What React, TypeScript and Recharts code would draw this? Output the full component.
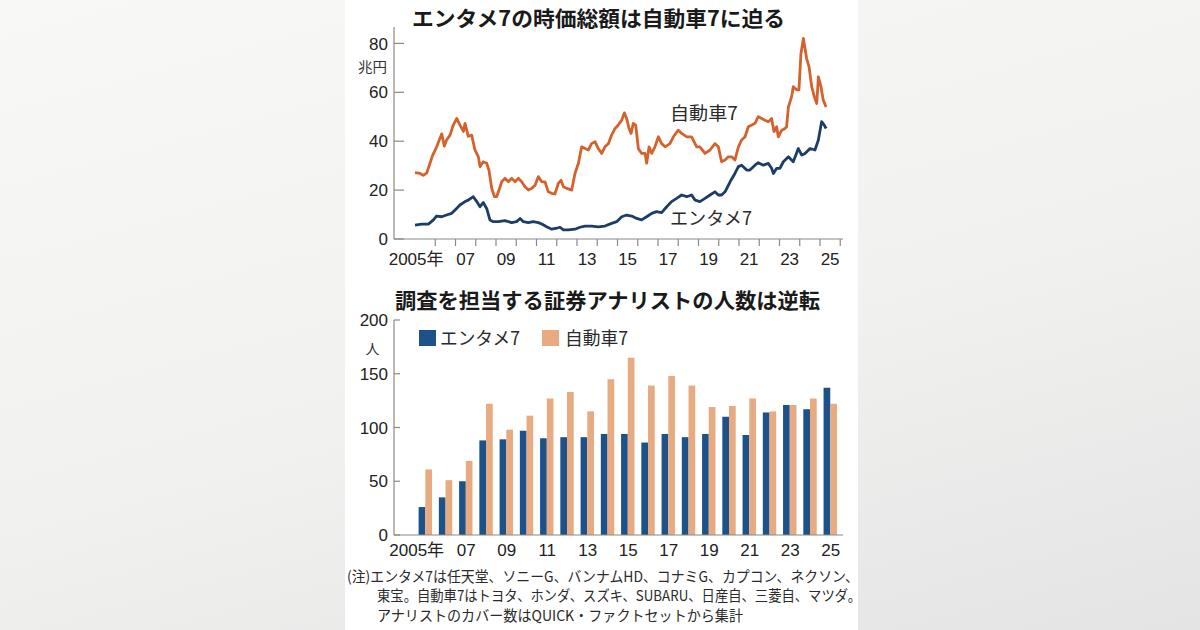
import React from 'react';
import { LineChart, Line, BarChart, Bar, XAxis, YAxis } from 'recharts';

// 時価総額（兆円）: 自動車7
const autoYears = [
  2005.0, 2005.25, 2005.41, 2005.58, 2005.74, 2005.86, 2006.07, 2006.32, 2006.45, 2006.56,
  2006.73, 2006.89, 2007.06, 2007.22, 2007.39, 2007.47, 2007.63, 2007.8, 2007.96, 2008.13,
  2008.21, 2008.37, 2008.54, 2008.65, 2008.79, 2008.92, 2009.03, 2009.15, 2009.28, 2009.44,
  2009.61, 2009.77, 2009.94, 2010.1, 2010.27, 2010.43, 2010.6, 2010.76, 2010.93, 2011.09,
  2011.26, 2011.42, 2011.58, 2011.75, 2011.91, 2012.08, 2012.21, 2012.33, 2012.49, 2012.74,
  2012.9, 2013.07, 2013.23, 2013.4, 2013.56, 2013.72, 2013.89, 2014.05, 2014.22, 2014.38,
  2014.55, 2014.71, 2014.88, 2015.04, 2015.21, 2015.34, 2015.45, 2015.57, 2015.67, 2015.78,
  2015.9, 2016.03, 2016.19, 2016.36, 2016.44, 2016.56, 2016.69, 2016.85, 2017.02, 2017.18,
  2017.35, 2017.59, 2017.76, 2018.0, 2018.17, 2018.42, 2018.66, 2018.91, 2019.07, 2019.32,
  2019.57, 2019.81, 2019.98, 2020.14, 2020.31, 2020.47, 2020.64, 2020.8, 2020.97, 2021.13,
  2021.3, 2021.46, 2021.63, 2021.79, 2021.95, 2022.12, 2022.28, 2022.45, 2022.61, 2022.73,
  2022.86, 2022.94, 2023.11, 2023.27, 2023.35, 2023.44, 2023.6, 2023.68, 2023.85, 2023.96,
  2024.06, 2024.18, 2024.34, 2024.46, 2024.59, 2024.72, 2024.84, 2024.92, 2025.05, 2025.16,
  2025.3,
];
const autoCap = [
  27.1, 26.8, 26, 27, 31, 34, 37.7, 43, 38, 40.5,
  42.5, 46.6, 49.3, 46.6, 44, 47.3, 42, 42.5, 36.4, 33.6,
  29.6, 31.6, 31, 28.2, 20.7, 17.3, 17.3, 20, 23.4, 24.8,
  23.4, 24.8, 23.4, 24.8, 23.4, 21.4, 20, 20.7, 22, 25.5,
  23.4, 23.4, 19.3, 18.7, 18.4, 22.8, 24, 21.4, 20.7, 20,
  26.8, 31, 37.7, 37, 36.4, 39, 39.8, 37, 35, 37.7,
  39, 42.5, 45.2, 46.6, 48.6, 51.6, 49.3, 45.2, 43.2, 47.3,
  46.6, 37, 35, 35, 31, 37.7, 35, 37.7, 41.8, 39,
  37.7, 39, 41.8, 44.5, 43.2, 41.8, 41.8, 37.7, 37.7, 35,
  36.4, 39, 37.7, 31.6, 32.3, 33.6, 33.6, 32.3, 37.7, 40.5,
  41.8, 45.9, 46.6, 47.3, 50, 49.3, 48.6, 48, 49.3, 43.9,
  45.9, 41.8, 44.5, 45.2, 45.9, 54, 58.2, 62.3, 61, 61,
  75.9, 82, 73.8, 70.4, 62.3, 58.2, 55.4, 66.3, 62.3, 56.8,
  54,
];

// 時価総額（兆円）: エンタメ7
const entYears = [
  2005.0, 2005.33, 2005.66, 2005.91, 2006.07, 2006.32, 2006.56, 2006.81, 2006.98, 2007.22,
  2007.47, 2007.63, 2007.88, 2008.05, 2008.21, 2008.37, 2008.54, 2008.7, 2008.87, 2009.12,
  2009.44, 2009.77, 2010.02, 2010.19, 2010.35, 2010.6, 2010.84, 2011.09, 2011.26, 2011.5,
  2011.75, 2012.0, 2012.16, 2012.33, 2012.57, 2012.9, 2013.15, 2013.4, 2013.72, 2014.05,
  2014.38, 2014.71, 2014.96, 2015.21, 2015.45, 2015.7, 2015.95, 2016.19, 2016.44, 2016.69,
  2016.93, 2017.18, 2017.43, 2017.67, 2017.92, 2018.17, 2018.42, 2018.66, 2018.83, 2019.07,
  2019.32, 2019.57, 2019.81, 2019.98, 2020.14, 2020.31, 2020.56, 2020.8, 2020.97, 2021.13,
  2021.38, 2021.54, 2021.79, 2021.95, 2022.2, 2022.45, 2022.61, 2022.7, 2022.86, 2023.02,
  2023.19, 2023.44, 2023.68, 2023.93, 2024.1, 2024.26, 2024.51, 2024.75, 2024.92, 2025.08,
  2025.21, 2025.3,
];
const entCap = [
  5.7, 6.1, 6.1, 7.8, 9.4, 9.1, 9.8, 10.5, 11.9, 13.9,
  15.3, 15.9, 17.3, 15.3, 13.2, 14.9, 12.5, 7.8, 7.1, 7.1,
  7.5, 6.7, 7.1, 8.4, 7.1, 6.7, 7.1, 6.7, 6.1, 5,
  4, 4.4, 4.8, 3.7, 3.7, 4, 4.8, 5.3, 5.3, 5,
  5.3, 6.4, 7.1, 9.1, 9.8, 9.4, 8.4, 7.8, 9.1, 10.5,
  11.2, 10.8, 13.2, 15.3, 16.6, 18, 17.3, 18, 15.9, 15.3,
  16.6, 18, 19.3, 18, 18, 19.3, 23.4, 26.8, 29.6, 30.2,
  28.2, 28.2, 30.2, 31.2, 30.2, 30.9, 28.9, 26.8, 28.9, 28.9,
  31.6, 33.6, 31.6, 37, 34.3, 35, 37, 36.4, 40.5, 48,
  46.6, 45.2,
];

// アナリスト数（人）
const years = [
  2005, 2006, 2007, 2008, 2009, 2010, 2011, 2012, 2013, 2014,
  2015, 2016, 2017, 2018, 2019, 2020, 2021, 2022, 2023, 2024, 2025,
];
const entAnalysts = [26, 35, 50, 88, 89, 97, 90, 91, 91, 94, 94, 86, 94, 91, 94, 110, 93, 114, 121, 117, 137];
const autoAnalysts = [61, 51, 69, 122, 98, 111, 127, 133, 115, 145, 165, 139, 148, 139, 119, 120, 127, 115, 121, 127, 122];

const capYTicks = [0, 20, 40, 60, 80];
const capXTicks = [2006, 2007, 2008, 2009, 2010, 2011, 2012, 2013, 2014, 2015, 2016, 2017, 2018, 2019, 2020, 2021, 2022, 2023, 2024, 2025, 2026];
const countYTicks = [0, 50, 100, 150, 200];

const ORANGE_LINE = '#d4622c';
const BLUE_LINE = '#1b3d68';
const BLUE_BAR = '#1d5288';
const ORANGE_BAR = '#e8aa80';
const AXIS = '#8a8a8a';
const NUM_FONT = "'Liberation Sans', Arial, 'Noto Sans CJK JP', sans-serif";
const JP_FONT = "'Noto Sans CJK JP', 'Noto Sans', sans-serif";

const X_MIN = 2003.963;
const X_MAX = 2026.136;
const PLOT_W = 449;
const PX_PER_YEAR = PLOT_W / (X_MAX - X_MIN);

const autoData = autoYears.map((t, i) => ({ t, v: autoCap[i] }));
const entData = entYears.map((t, i) => ({ t, v: entCap[i] }));
const barData = years.map((year, i) => ({ year, ent: entAnalysts[i], auto: autoAnalysts[i] }));

function yearLabel(year: number) {
  return year === 2005 ? '2005年' : String(year).slice(2);
}

function CapXTick(props: any) {
  const { x, y, payload } = props;
  const labelYear = payload.value - 1;
  const showLabel = labelYear % 2 === 1;
  const lx = x - PX_PER_YEAR / 2 + (labelYear === 2005 ? -9 : 0);
  return (
    <g>
      <line x1={x} y1={y} x2={x} y2={y + 7} stroke={AXIS} strokeWidth={1.2} />
      {showLabel && (
        <text x={lx} y={y + 26} textAnchor="middle" fontSize={17} fill="#222" fontFamily={NUM_FONT}>
          {yearLabel(labelYear)}
        </text>
      )}
    </g>
  );
}

function CountXTick(props: any) {
  const { x, y, payload } = props;
  const lx = x + (payload.value === 2005 ? -9 : 0);
  return (
    <text x={lx} y={y + 21} textAnchor="middle" fontSize={17} fill="#222" fontFamily={NUM_FONT}>
      {yearLabel(payload.value)}
    </text>
  );
}

function makeYTick(len: number) {
  return function YTick(props: any) {
    const { x, y, payload } = props;
    return (
      <g>
        <line x1={x} y1={y} x2={x + len} y2={y} stroke={AXIS} strokeWidth={1.2} />
        <text x={x - 6} y={y} dy="0.36em" textAnchor="end" fontSize={17} fill="#222" fontFamily={NUM_FONT}>
          {payload.value}
        </text>
      </g>
    );
  };
}

const CapYTick = makeYTick(10);
const CountYTick = makeYTick(6);

function Overlay() {
  return (
    <svg width={1200} height={630} style={{ position: 'absolute', left: 0, top: 0, pointerEvents: 'none' }}>
      <g fontFamily={JP_FONT} fill="#1a1a1a">
        <text x={412} y={26} fontSize={21} fontWeight={700} textLength={373} lengthAdjust="spacingAndGlyphs">
          エンタメ7の時価総額は自動車7に迫る
        </text>
        <text x={395} y={308} fontSize={21} fontWeight={700} textLength={425} lengthAdjust="spacingAndGlyphs">
          調査を担当する証券アナリストの人数は逆転
        </text>
        <text x={358} y={72} fontSize={14} fill="#333" textLength={29} lengthAdjust="spacingAndGlyphs">兆円</text>
        <text x={372.5} y={354} fontSize={14} fill="#333" textAnchor="middle">人</text>
        <text x={670} y={120} fontSize={18} fill="#2a2a2a" textLength={68} lengthAdjust="spacingAndGlyphs">自動車7</text>
        <text x={670} y={225} fontSize={18} fill="#2a2a2a" textLength={82} lengthAdjust="spacingAndGlyphs">エンタメ7</text>

        <rect x={419} y={330} width={17} height={16} fill={BLUE_BAR} />
        <text x={440} y={345} fontSize={18} fill="#2a2a2a" textLength={80} lengthAdjust="spacingAndGlyphs">エンタメ7</text>
        <rect x={542} y={330} width={17} height={16} fill={ORANGE_BAR} />
        <text x={565} y={345} fontSize={18} fill="#2a2a2a" textLength={63} lengthAdjust="spacingAndGlyphs">自動車7</text>

        <g fontSize={14.5} fill="#2a2a2a">
          <text x={347} y={582} textLength={512} lengthAdjust="spacingAndGlyphs">
            (注)エンタメ7は任天堂、ソニーG、バンナムHD、コナミG、カプコン、ネクソン、
          </text>
          <text x={377} y={601} textLength={484} lengthAdjust="spacingAndGlyphs">
            東宝。自動車7はトヨタ、ホンダ、スズキ、SUBARU、日産自、三菱自、マツダ。
          </text>
          <text x={377} y={621} textLength={366} lengthAdjust="spacingAndGlyphs">
            アナリストのカバー数はQUICK・ファクトセットから集計
          </text>
        </g>
      </g>
    </svg>
  );
}

export default function App() {
  return (
    <div
      style={{
        position: 'fixed',
        left: 0,
        top: 0,
        width: 1200,
        height: 630,
        overflow: 'hidden',
        background: 'linear-gradient(165deg, #f8f8f7 0%, #f1f1f0 55%, #e4e4e4 100%)',
      }}
    >
      <div style={{ position: 'absolute', left: 345, top: 0, width: 513, height: 630, background: '#fff' }} />

      <div style={{ position: 'absolute', left: 345, top: 0 }}>
        <LineChart width={513} height={280} margin={{ top: 27, right: 15, bottom: 11, left: 0 }}>
          <XAxis
            type="number"
            dataKey="t"
            domain={[X_MIN, X_MAX]}
            ticks={capXTicks}
            allowDataOverflow
            height={30}
            tickSize={0}
            tickMargin={0}
            tickLine={false}
            axisLine={{ stroke: AXIS, strokeWidth: 1.2 }}
            tick={<CapXTick />}
            interval={0}
          />
          <YAxis
            type="number"
            domain={[0, 86.7]}
            ticks={capYTicks}
            allowDataOverflow
            width={49}
            tickSize={0}
            tickMargin={0}
            tickLine={false}
            axisLine={{ stroke: AXIS, strokeWidth: 1.2 }}
            tick={<CapYTick />}
            interval={0}
          />
          <Line
            data={autoData}
            dataKey="v"
            type="linear"
            stroke={ORANGE_LINE}
            strokeWidth={2.8}
            strokeLinejoin="round"
            dot={false}
            isAnimationActive={false}
          />
          <Line
            data={entData}
            dataKey="v"
            type="linear"
            stroke={BLUE_LINE}
            strokeWidth={2.8}
            strokeLinejoin="round"
            dot={false}
            isAnimationActive={false}
          />
        </LineChart>
      </div>

      <div style={{ position: 'absolute', left: 345, top: 300 }}>
        <BarChart
          width={513}
          height={265}
          data={barData}
          margin={{ top: 20, right: 15, bottom: 0, left: 0 }}
          barGap={0}
          barSize={6.7}
        >
          <XAxis
            dataKey="year"
            height={30}
            padding={{ left: 21.6, right: 2.2 }}
            tickSize={0}
            tickMargin={0}
            tickLine={false}
            axisLine={{ stroke: AXIS, strokeWidth: 1.2 }}
            tick={<CountXTick />}
            interval={1}
          />
          <YAxis
            type="number"
            domain={[0, 200]}
            ticks={countYTicks}
            width={49}
            tickSize={0}
            tickMargin={0}
            tickLine={false}
            axisLine={{ stroke: AXIS, strokeWidth: 1.2 }}
            tick={<CountYTick />}
            interval={0}
          />
          <Bar dataKey="ent" fill={BLUE_BAR} isAnimationActive={false} />
          <Bar dataKey="auto" fill={ORANGE_BAR} isAnimationActive={false} />
        </BarChart>
      </div>

      <Overlay />
    </div>
  );
}
